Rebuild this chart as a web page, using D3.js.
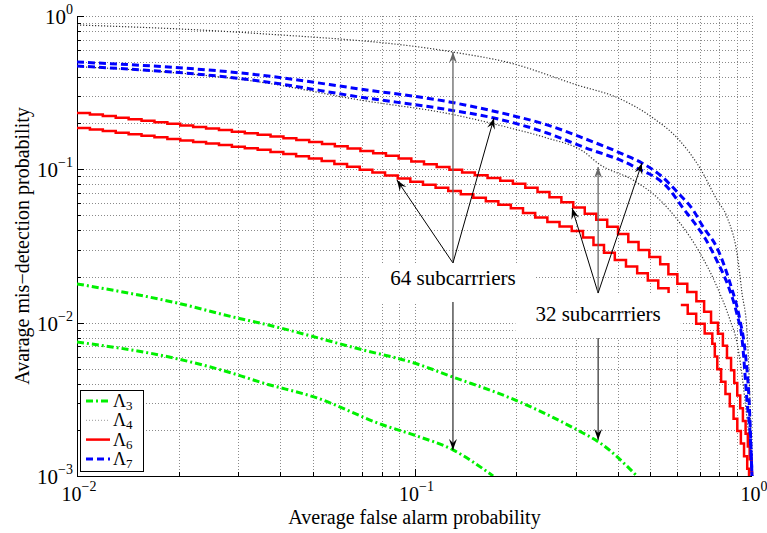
<!DOCTYPE html>
<html>
<head>
<meta charset="utf-8">
<script src="https://cdnjs.cloudflare.com/ajax/libs/d3/7.8.5/d3.min.js"></script>
<style>
  body { margin: 0; background: #fff; }
  text { font-family: "Liberation Serif", "Times New Roman", serif; fill: #000; }
</style>
</head>
<body>
<div id="chart"></div>
<script>

// ---- data ----
// Lambda 3, green dash-dot
var l3_64_pf  = [0.01, 0.0199, 0.030, 0.0348, 0.0514, 0.0807, 0.0997, 0.130, 0.171];
var l3_64_pmd = [0.00748, 0.0058, 0.00456, 0.0041, 0.00323, 0.00215, 0.00185, 0.00148, 0.001];
var l3_32_pf  = [0.01, 0.0199, 0.030, 0.0348, 0.0704, 0.0997, 0.130, 0.192, 0.303, 0.355, 0.456];
var l3_32_pmd = [0.0179, 0.0134, 0.0107, 0.00995, 0.00664, 0.00546, 0.00442, 0.00323, 0.0020, 0.00164, 0.001];

// Lambda 4, grey dotted
var l4_64_pf  = [0.01, 0.0326, 0.13, 0.192, 0.303, 0.401, 0.505, 0.612, 0.701, 0.788, 0.843, 0.909, 0.934, 0.966, 0.986, 1.0];
var l4_64_pmd = [0.874, 0.775, 0.582, 0.494, 0.355, 0.292, 0.219, 0.153, 0.102, 0.063, 0.0489, 0.0256, 0.0156, 0.00896, 0.00313, 0.001];
var l4_32_pf  = [0.01, 0.0348, 0.069, 0.127, 0.192, 0.247, 0.316, 0.355, 0.444, 0.534, 0.612, 0.701, 0.788, 0.861, 0.903, 0.953, 0.986, 1.0];
var l4_32_pmd = [0.468, 0.371, 0.283, 0.230, 0.186, 0.160, 0.131, 0.107, 0.0852, 0.063, 0.0446, 0.0285, 0.0171, 0.0104, 0.00737, 0.00313, 0.00148, 0.001];

// Lambda 6, red solid (staircase)
var l6_64_pf  = [0.01, 0.0348, 0.0514, 0.0807, 0.130, 0.192, 0.303, 0.3795, 0.466, 0.560, 0.642, 0.761, 0.793, 0.861, 0.921, 0.98];
var l6_64_pmd = [0.186, 0.1337, 0.115, 0.0918, 0.0711, 0.0559, 0.0384, 0.0268, 0.0205, 0.0152, 0.01156, 0.00748, 0.0047, 0.00282, 0.00172, 0.001];
var l6_32_pf  = [0.01, 0.0348, 0.0514, 0.0807, 0.1089, 0.1596, 0.192, 0.2245, 0.293, 0.347, 0.398, 0.466, 0.534, 0.583, 0.669, 0.716, 0.804, 0.872, 0.921, 0.966, 1.0];
var l6_32_pmd = [0.233, 0.1675, 0.1485, 0.124, 0.1067, 0.0891, 0.0815, 0.0733, 0.0568, 0.0467, 0.0384, 0.0293, 0.0241, 0.019, 0.0147, 0.0121, 0.00806, 0.0047, 0.00282, 0.00172, 0.001];

// Lambda 7, blue dashed
var l7_64_pf  = [0.01, 0.0348, 0.069, 0.127, 0.172, 0.247, 0.316, 0.444, 0.572, 0.624, 0.669, 0.726, 0.793, 0.849, 0.903, 0.934, 0.966, 0.993, 1.0];
var l7_64_pmd = [0.472, 0.377, 0.296, 0.244, 0.216, 0.1726, 0.140, 0.105, 0.073, 0.056, 0.046, 0.0355, 0.0245, 0.0175, 0.0113, 0.0079, 0.00313, 0.00148, 0.001];
var l7_32_pf  = [0.01, 0.0348, 0.069, 0.127, 0.192, 0.247, 0.316, 0.420, 0.472, 0.534, 0.612, 0.669, 0.711, 0.793, 0.861, 0.921, 0.953, 0.980, 1.0];
var l7_32_pmd = [0.501, 0.412, 0.334, 0.275, 0.226, 0.195, 0.160, 0.124, 0.110, 0.0918, 0.068, 0.0543, 0.0433, 0.0298, 0.0181, 0.0104, 0.00664, 0.00313, 0.001];

var legendNames = ["3", "4", "6", "7"];
var xTickExp = [-2, -1, 0];
var yTickExp = [0, -1, -2, -3];

// annotation anchors (data coords): origin, arrow tips, down arrow
var ann64 = { label: "64 subcarrriers", origin: [0.130, 0.0245], downFrom: 0.01364,
  tips: [[0.0887, 0.0852], [0.130, 0.582], [0.172, 0.216]], down: 0.00148 };
var ann32 = { label: "32 subcarrriers", origin: [0.350, 0.0156], downFrom: 0.00794,
  tips: [[0.293, 0.0559], [0.350, 0.1036], [0.472, 0.110]], down: 0.00172 };

// ---- drawing ----
var W = 767, H = 533;
var L = 77, R = 752, T = 16, B = 476;

var svg = d3.select("#chart").append("svg")
  .attr("width", W).attr("height", H)
  .style("background", "#fff");

var x = d3.scaleLog().domain([0.01, 1]).range([L, R]);
var y = d3.scaleLog().domain([0.001, 1]).range([B, T]);

var defs = svg.append("defs");
defs.append("clipPath").attr("id", "plotclip")
  .append("rect").attr("x", L).attr("y", T - 2).attr("width", R - L + 2).attr("height", B - T + 2);
["#000", "#666"].forEach(function(c, i){
  defs.append("marker").attr("id", "ah" + i)
    .attr("markerUnits", "userSpaceOnUse")
    .attr("viewBox", "-11 -5 12 10").attr("refX", 0).attr("refY", 0)
    .attr("markerWidth", 12).attr("markerHeight", 10).attr("orient", "auto")
    .append("path").attr("d", "M0,0 L-11,-4 L-7,0 L-11,4 Z").attr("fill", c);
});

// grid
var g = svg.append("g");
g.selectAll(".gx").data(x.ticks()).enter().append("line")
  .attr("x1", function(d){ return Math.round(x(d)) + 0.5; })
  .attr("x2", function(d){ return Math.round(x(d)) + 0.5; })
  .attr("y1", T).attr("y2", B)
  .attr("stroke", "#8a8a8a").attr("stroke-width", 1).attr("stroke-dasharray", "1,2");
g.selectAll(".gy").data(y.ticks()).enter().append("line")
  .attr("y1", function(d){ return Math.round(y(d)) + 0.5; })
  .attr("y2", function(d){ return Math.round(y(d)) + 0.5; })
  .attr("x1", L).attr("x2", R)
  .attr("stroke", "#8a8a8a").attr("stroke-width", 1).attr("stroke-dasharray", "1,2");

// axes lines and inner ticks
svg.append("line").attr("x1", L + 0.5).attr("x2", L + 0.5).attr("y1", T).attr("y2", B + 0.5).attr("stroke", "#000");
svg.append("line").attr("x1", L).attr("x2", R).attr("y1", B + 0.5).attr("y2", B + 0.5).attr("stroke", "#000");
function isMajor(d){ return Math.abs(Math.log10(d) - Math.round(Math.log10(d))) < 1e-6; }
svg.selectAll(".tx").data(x.ticks()).enter().append("line")
  .attr("x1", function(d){ return Math.round(x(d)) + 0.5; })
  .attr("x2", function(d){ return Math.round(x(d)) + 0.5; })
  .attr("y1", B).attr("y2", function(d){ return B - (isMajor(d) ? 7 : 4); })
  .attr("stroke", "#000");
svg.selectAll(".ty").data(y.ticks()).enter().append("line")
  .attr("y1", function(d){ return Math.round(y(d)) + 0.5; })
  .attr("y2", function(d){ return Math.round(y(d)) + 0.5; })
  .attr("x1", L).attr("x2", function(d){ return L + (isMajor(d) ? 7 : 4); })
  .attr("stroke", "#000");

function expText(sel, e){
  sel.text("10");
  sel.append("tspan").attr("dy", -10).attr("font-size", 14)
    .text(e === 0 ? "0" : "\u2212" + Math.abs(e));
}
yTickExp.forEach(function(e){
  var t = svg.append("text").attr("x", 73).attr("y", y(Math.pow(10, e)) + 8)
    .attr("text-anchor", "end").attr("font-size", 21);
  expText(t, e);
});
xTickExp.forEach(function(e){
  var t = svg.append("text").attr("x", x(Math.pow(10, e)) + 2).attr("y", 501)
    .attr("text-anchor", "middle").attr("font-size", 20);
  expText(t, e);
});

svg.append("text").attr("x", (L + R) / 2).attr("y", 524)
  .attr("text-anchor", "middle").attr("font-size", 20)
  .text("Average false alarm probability");
svg.append("text").attr("transform", "translate(29," + ((T + B) / 2) + ") rotate(-90)")
  .attr("text-anchor", "middle").attr("font-size", 20)
  .text("Avarage mis\u2212detection probability");

// curves
function pts(pf, pmd){ return pf.map(function(v, i){ return [x(v), y(pmd[i])]; }); }
var smooth = d3.line().curve(d3.curveMonotoneX);

// staircase rendering: walk the polyline and draw flat runs then drops
function stairs(p, step){
  var out = [p[0]], acc = 0;
  for (var i = 1; i < p.length; i++){
    var ax = p[i-1][0], ay = p[i-1][1], bx = p[i][0], by = p[i][1];
    var len = Math.hypot(bx - ax, by - ay), s = step - acc;
    while (s <= len){
      out.push([ax + (bx - ax) * s / len, ay + (by - ay) * s / len]);
      s += step;
    }
    acc = len - (s - step);
  }
  out.push(p[p.length - 1]);
  var d = "M" + out[0][0] + "," + out[0][1];
  for (var j = 1; j < out.length; j++) d += "H" + out[j][0] + "V" + out[j][1];
  return d;
}

var cg = svg.append("g").attr("clip-path", "url(#plotclip)").attr("fill", "none");

var styles = {
  l3: { stroke: "#00f000", w: 3, dash: "7,3,2,3" },
  l4: { stroke: "#333", w: 1.2, dash: "1.2,1.8" },
  l6: { stroke: "#ff0000", w: 2.5, dash: null },
  l7: { stroke: "#0000ff", w: 3, dash: "7,4" }
};
function drawSmooth(pf, pmd, st){
  cg.append("path").attr("d", smooth(pts(pf, pmd)))
    .attr("stroke", st.stroke).attr("stroke-width", st.w)
    .attr("stroke-dasharray", st.dash);
}
drawSmooth(l3_64_pf, l3_64_pmd, styles.l3);
drawSmooth(l3_32_pf, l3_32_pmd, styles.l3);
drawSmooth(l4_64_pf, l4_64_pmd, styles.l4);
drawSmooth(l4_32_pf, l4_32_pmd, styles.l4);
[[l6_64_pf, l6_64_pmd], [l6_32_pf, l6_32_pmd]].forEach(function(s){
  cg.append("path").attr("d", stairs(pts(s[0], s[1]), 13))
    .attr("stroke", styles.l6.stroke).attr("stroke-width", styles.l6.w);
});
drawSmooth(l7_64_pf, l7_64_pmd, styles.l7);
drawSmooth(l7_32_pf, l7_32_pmd, styles.l7);

// annotations
function annotate(a){
  var ox = x(a.origin[0]), oy = y(a.origin[1]), dy0 = y(a.downFrom);
  var grp = svg.append("g");
  var box = grp.append("rect").attr("fill", "#fff");
  var t = grp.append("text").attr("x", ox).attr("y", dy0 - 17)
    .attr("text-anchor", "middle").attr("font-size", 21).text(a.label);
  var bb = t.node().getBBox();
  box.attr("x", bb.x - 20).attr("width", bb.width + 40)
    .attr("y", oy).attr("height", dy0 - oy);
  a.tips.forEach(function(tp, i){
    var vertical = i === 1;
    svg.append("line").attr("x1", ox).attr("y1", oy)
      .attr("x2", x(tp[0])).attr("y2", y(tp[1]))
      .attr("stroke", vertical ? "#666" : "#000").attr("stroke-width", vertical ? 1.3 : 1)
      .attr("marker-end", vertical ? "url(#ah1)" : "url(#ah0)");
  });
  svg.append("line").attr("x1", ox).attr("y1", dy0)
    .attr("x2", ox).attr("y2", y(a.down))
    .attr("stroke", "#000").attr("stroke-width", 1).attr("marker-end", "url(#ah0)");
}
annotate(ann64);
annotate(ann32);

// legend
var lg = svg.append("g");
lg.append("rect").attr("x", 80.5).attr("y", 390.5).attr("width", 63).attr("height", 81)
  .attr("fill", "#fff").attr("stroke", "#000");
var lStyles = [styles.l3, { stroke: "#999", w: 1, dash: "1,2" }, styles.l6, styles.l7];
legendNames.forEach(function(n, i){
  var yy = 401 + i * 19.3;
  var st = lStyles[i];
  lg.append("line").attr("x1", 86).attr("x2", 110).attr("y1", yy).attr("y2", yy)
    .attr("stroke", st.stroke).attr("stroke-width", st.w).attr("stroke-dasharray", st.dash);
  var t = lg.append("text").attr("x", 113).attr("y", yy + 6).attr("font-size", 18).text("\u039B");
  t.append("tspan").attr("dy", 3).attr("font-size", 13).text(n);
});

</script>
</body>
</html>
